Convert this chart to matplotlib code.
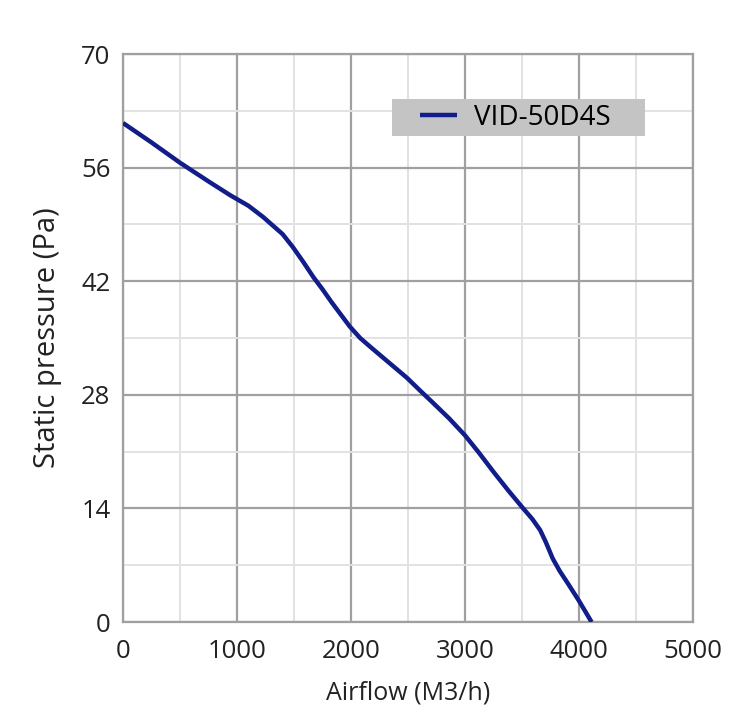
import matplotlib.pyplot as plt
import matplotlib.patches as mpatches
import numpy as np

# Fan curve
airflow = [0, 250, 500, 750, 940, 1100, 1230, 1400, 1490, 1580, 1670, 1750, 1830, 1910,
           1990, 2080, 2170, 2330, 2490, 2600, 2720, 2860, 3000, 3120, 3250, 3380,
           3510, 3590, 3660, 3710, 3770, 3830, 3900, 4000, 4110]
pressure = [61.5, 59.1, 56.6, 54.3, 52.6, 51.3, 49.9, 47.8, 46.2, 44.4, 42.5, 41.0, 39.4, 37.9,
            36.4, 35.0, 33.9, 32.0, 30.1, 28.6, 27.0, 25.1, 23.0, 20.9, 18.5, 16.2,
            14.0, 12.7, 11.3, 9.8, 7.8, 6.3, 4.8, 2.6, 0.0]
series_name = "VID-50D4S"

x_ticks = [0, 1000, 2000, 3000, 4000, 5000]
y_ticks = [0, 14, 28, 42, 56, 70]

plt.rcParams['font.family'] = ['Open Sans', 'DejaVu Sans']

fig = plt.figure(figsize=(7.42, 7.09), dpi=100)
ax = fig.add_axes([0.1658, 0.1227, 0.7682, 0.8011])

ax.plot(airflow, pressure, color='#111d88', lw=3.2, label=series_name, zorder=3,
        solid_joinstyle='round', solid_capstyle='butt')

ax.set_xlim(0, 5000)
ax.set_ylim(0, 70)
ax.set_xticks(x_ticks)
ax.set_yticks(y_ticks)
ax.set_xticks(np.arange(500, 5000, 1000), minor=True)
ax.set_yticks(np.arange(7, 70, 14), minor=True)
ax.grid(which='major', color='#a0a0a0', lw=1.6)
ax.grid(which='minor', color='#e2e2e2', lw=1.4)
ax.tick_params(which='both', length=0, labelsize=18.5, colors='#222222')
ax.tick_params(axis='x', pad=12)
ax.tick_params(axis='y', pad=9)
for s in ax.spines.values():
    s.set_color('#a0a0a0')
    s.set_linewidth(1.6)

ax.set_xlabel("Airflow (M3/h)", fontsize=18, color='#222222', labelpad=12)
ax.set_ylabel("Static pressure (Pa)", fontsize=21, color='#222222', labelpad=14)

# grey legend box
ax.add_patch(mpatches.Rectangle((0.472, 0.8556), 0.444, 0.0651, transform=ax.transAxes,
                                facecolor='#c4c4c4', edgecolor='none', zorder=4))
leg = ax.legend(loc='center left', bbox_to_anchor=(0.521, 0.888), fontsize=20,
                frameon=False, handlelength=1.35, borderpad=0, handletextpad=0.6,
                borderaxespad=0)
leg.set_zorder(5)

fig.savefig('out.png', dpi=100)
